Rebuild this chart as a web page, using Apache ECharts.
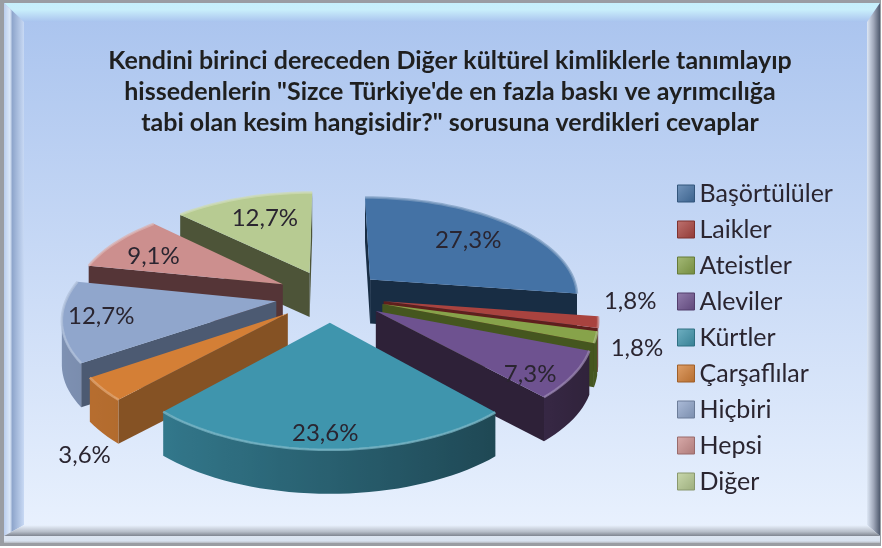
<!DOCTYPE html>
<html>
<head>
<meta charset="utf-8">
<style>html,body{margin:0;padding:0;background:#fff}#c{width:882px;height:548px}</style>
<script src="https://cdn.jsdelivr.net/npm/echarts@6/dist/echarts.min.js"></script>
</head>
<body>
<div id="c"></div>
<script>
const categories = ['Başörtülüler','Laikler','Ateistler','Aleviler','Kürtler','Çarşaflılar','Hiçbiri','Hepsi','Diğer'];
const values = [27.3,1.8,1.8,7.3,23.6,3.6,12.7,9.1,12.7];
const topColors = ['#4472A5','#A9433F','#87A34A','#6E5290','#3F95AD','#D47F36','#90A6CC','#CC8F8E','#B7CB92'];
const wallColors = ['#182D44','#5F1F1D','#45561F','#2E2138','#1A3C47','#855224','#4C5A72','#553537','#4D5438'];
const drawOrder = [8,7,0,6,1,2,3,5,4];
const titleText = 'Kendini birinci dereceden Diğer kültürel kimliklerle tanımlayıp\nhissedenlerin "Sizce Türkiye\'de en fazla baskı ve ayrımcılığa\ntabi olan kesim hangisidir?" sorusuna verdikleri cevaplar';
// label placement per slice: radial fraction, then nudge in px
const labelRadius = [0.62,1.0,1.0,0.72,0.72,1.0,0.72,0.72,0.72];
const labelNudge = [[10,-3],[32,-21],[41,11],[16,18],[-4,24],[-18,66],[-22,0],[-7,3],[5,1]];

const P = {cx:330, cy:296, rx:209, ry:99, k:0.15, explode:0.26, depth:44};
const total = values.reduce((a,b)=>a+b,0);
const starts = []; let acc = 0;
values.forEach(v=>{starts.push(acc/total*Math.PI*2); acc+=v;});

function project(u,v){const s=1/(1-P.k*v);return [P.cx+P.rx*u*s, P.cy+P.ry*v*s];}
function hex(c){return [1,3,5].map(i=>parseInt(c.substr(i,2),16));}
function mix(a,b,t){const A=hex(a),B=hex(b);return '#'+A.map((x,i)=>Math.round(x+(B[i]-x)*t).toString(16).padStart(2,'0')).join('');}
function lighten(c,t){return mix(c,'#ffffff',t);}

function sliceGeom(i){
  const a0=starts[i], a1=a0+values[i]/total*Math.PI*2, mid=(a0+a1)/2;
  const ou=P.explode*Math.sin(mid), ov=-P.explode*Math.cos(mid);
  const at=(r,a)=>project(ou+r*Math.sin(a), ov-r*Math.cos(a));
  const n=Math.max(4,Math.ceil((a1-a0)/0.04)); const arc=[];const ang=[];
  for(let j=0;j<=n;j++){const a=a0+(a1-a0)*j/n;arc.push(at(1,a));ang.push(a);}
  return {apex:at(0,0),arc,ang,mid,at};
}
const down=p=>[p[0],p[1]+P.depth];

function renderSlice(i){
  return function(params,api){
    const g=sliceGeom(i), top=topColors[i], wall=wallColors[i], kids=[];
    const face=(p,q,fill)=>{
      if(q[0]<p[0]) kids.push({type:'polygon',shape:{points:[p,q,down(q),down(p)]},style:{fill:fill},z2:1});
    };
    face(g.apex,g.arc[0],wall);
    // the visible part of the outer wall, as one shape shaded from left to right
    const run=[],runAng=[];
    for(let j=0;j<g.arc.length;j++){
      const frontPrev=j>0&&g.arc[j][0]<g.arc[j-1][0], frontNext=j<g.arc.length-1&&g.arc[j+1][0]<g.arc[j][0];
      if(frontPrev||frontNext){run.push(g.arc[j]);runAng.push(g.ang[j]);}
    }
    if(run.length>1){
      const x0=run[run.length-1][0], x1=run[0][0];
      const colorAt=a=>mix(mix(top,'#000000',0.12),wall,(Math.sin(a)+1)/2);
      const stops=run.map((p,j)=>({offset:(p[0]-x0)/(x1-x0),color:colorAt(runAng[j])})).reverse();
      kids.push({type:'polygon',shape:{points:run.concat(run.slice().reverse().map(down))},
        style:{fill:{type:'linear',global:true,x:x0,y:0,x2:x1,y2:0,colorStops:stops}},z2:1});
    }
    face(g.arc[g.arc.length-1],g.apex,wall);
    kids.push({type:'polygon',shape:{points:[g.apex].concat(g.arc)},style:{fill:top},z2:2});
    kids.push({type:'polyline',shape:{points:g.arc},style:{fill:null,stroke:lighten(top,0.3),lineWidth:2.5,opacity:0.75},z2:3});
    const lp=g.at(labelRadius[i],g.mid);
    kids.push({type:'text',style:{text:String(values[i]).replace('.',',')+'%',x:lp[0]+labelNudge[i][0],y:lp[1]+labelNudge[i][1],
      align:'center',verticalAlign:'middle',font:'24px Lato',fill:'#2A2530'},z2:10});
    return {type:'group',children:kids};
  };
}

const vGrad=(stops)=>({type:'linear',x:0,y:0,x2:0,y2:1,colorStops:stops.map(c=>({offset:c[0],color:c[1]}))});
const hGrad=(stops)=>({type:'linear',x:0,y:0,x2:1,y2:0,colorStops:stops.map(c=>({offset:c[0],color:c[1]}))});
const frame=[
  {type:'rect',shape:{x:0,y:0,width:882,height:548},style:{fill:'#ffffff'}},
  {type:'rect',shape:{x:0,y:0,width:881,height:546},style:{fill:'#9a9da3'}},
  {type:'rect',shape:{x:4,y:3,width:876,height:540},style:{fill:vGrad([[0,'#A9C3EE'],[1,'#EAF2FE']])}},
  {type:'polygon',shape:{points:[[4,3],[880,3],[867,22],[24,22]]},style:{fill:vGrad([[0,'#C6F0FC'],[0.35,'#C9EFFB'],[1,'#A9C3EE']])}},
  {type:'polygon',shape:{points:[[4,3],[24,22],[24,525],[4,536]]},style:{fill:hGrad([[0,'#B9CDEE'],[0.3,'#DCE8F8'],[0.42,'#8FA6CC'],[1,'#C8D9F4']])}},
  {type:'polygon',shape:{points:[[880,3],[867,22],[867,525],[880,536]]},style:{fill:hGrad([[0,'#DDE7F5'],[0.5,'#A0A8BA'],[1,'#4F5A6E']])}},
  {type:'polygon',shape:{points:[[4,536],[24,525],[867,525],[880,536]]},style:{fill:vGrad([[0,'#EAF2FE'],[0.6,'#B8BFCA'],[1,'#7F8590']])}},
  {type:'rect',shape:{x:4,y:536,width:876,height:7},style:{fill:vGrad([[0,'#DDE5F1'],[0.7,'#D8E2F0'],[1,'#B5B9C0'] ])}}
];

const chart=echarts.init(document.getElementById('c'),null,{renderer:'canvas'});
chart.setOption({
  animation:false,
  title:{text:titleText,left:445,top:40,textAlign:'center',
    textStyle:{fontFamily:'Lato',fontWeight:'bold',fontSize:25,lineHeight:31,color:'#1F1F1F'}},
  legend:{orient:'vertical',left:677,top:181,padding:0,itemWidth:17,itemHeight:17,itemGap:11,icon:'rect',
    textStyle:{fontFamily:'Lato',fontSize:25,lineHeight:25,color:'#2A2530'},
    data:categories.map((c,i)=>({name:c,itemStyle:{
      color:{type:'linear',x:0,y:0,x2:1,y2:1,colorStops:[{offset:0,color:lighten(topColors[i],0.25)},{offset:1,color:mix(topColors[i],'#000000',0.15)}]},
      borderColor:mix(topColors[i],'#000000',0.25),borderWidth:1}}))},
  graphic:{elements:frame.map(e=>Object.assign({silent:true,z:-10},e))},
  series:drawOrder.map((i,idx)=>({
    type:'custom',name:categories[i],coordinateSystem:'none',z:2+idx*0.01,
    itemStyle:{color:topColors[i]},
    data:[values[i]],renderItem:renderSlice(i),silent:true
  }))
});
</script>
</body>
</html>
